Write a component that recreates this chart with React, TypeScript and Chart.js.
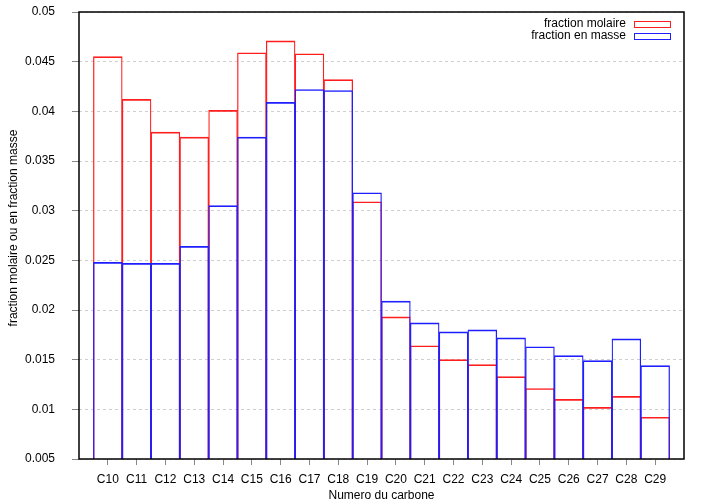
import React, { useEffect, useRef } from "react";
import { Chart, registerables } from "chart.js";

Chart.register(...registerables);

const categories = ["C10","C11","C12","C13","C14","C15","C16","C17","C18","C19","C20","C21","C22","C23","C24","C25","C26","C27","C28","C29"];
const fractionMolaire = [0.0455,0.0412,0.0379,0.0374,0.0401,0.0459,0.0471,0.0458,0.0432,0.0309,0.0193,0.0164,0.0150,0.0145,0.0133,0.0121,0.0110,0.0102,0.0113,0.0092];
const fractionMasse = [0.0248,0.0247,0.0247,0.0264,0.0305,0.0374,0.0409,0.0422,0.0421,0.0318,0.0209,0.0187,0.0178,0.0180,0.0172,0.0163,0.0154,0.0149,0.0171,0.0144];
const legendLabels = ["fraction molaire", "fraction en masse"];
const xTitle = "Numero du carbone";
const yTitle = "fraction molaire ou en fraction masse";

const RED = "rgb(255,30,30)";
const BLUE = "rgb(30,30,255)";
const FONT = "Liberation Sans, Arial, sans-serif";

const overlayPlugin = {
  id: "overlay",
  afterDraw(chart: any) {
    const { ctx, chartArea } = chart;
    const { left, right, top, bottom } = chartArea;
    ctx.save();
    ctx.strokeStyle = "#000";
    ctx.lineWidth = 1.5;
    ctx.strokeRect(left, top, right - left, bottom - top);
    ctx.font = "12px " + FONT;
    ctx.fillStyle = "#000";
    ctx.textAlign = "right";
    ctx.textBaseline = "middle";
    const colors = [RED, BLUE];
    legendLabels.forEach((lab, i) => {
      const y = top + 12 + i * 12;
      ctx.fillText(lab, right - 58, y);
      ctx.strokeStyle = colors[i];
      ctx.lineWidth = 1;
      ctx.strokeRect(right - 49.5, y - 2.5, 36, 6);
    });
    ctx.textAlign = "center";
    ctx.fillText(xTitle, (left + right) / 2, 496);
    ctx.save();
    ctx.translate(14, 228);
    ctx.rotate(-Math.PI / 2);
    ctx.fillText(yTitle, 0, 0);
    ctx.restore();
    ctx.restore();
  },
};

export default function App() {
  const ref = useRef<HTMLCanvasElement>(null);
  useEffect(() => {
    const canvas = ref.current!;
    const mkData = (arr: number[]) => arr.map((v, i) => ({ x: i, y: v }));
    const bw = { left: 0.6, right: 0.6, top: 1, bottom: 0 };
    const chart = new Chart(canvas, {
      type: "bar",
      data: {
        datasets: [
          {
            label: legendLabels[1],
            data: mkData(fractionMasse),
            borderColor: BLUE,
            backgroundColor: "rgba(0,0,0,0)",
            borderWidth: bw,
            borderSkipped: false,
            grouped: false,
            barPercentage: 1,
            categoryPercentage: 1,
          },
          {
            label: legendLabels[0],
            data: mkData(fractionMolaire),
            borderColor: RED,
            backgroundColor: "rgba(0,0,0,0)",
            borderWidth: bw,
            borderSkipped: false,
            grouped: false,
            barPercentage: 1,
            categoryPercentage: 1,
          },
        ],
      } as any,
      options: {
        animation: false,
        responsive: false,
        devicePixelRatio: 1,
        layout: { padding: { top: 12, right: 21, left: 0, bottom: 0 } },
        plugins: { legend: { display: false }, tooltip: { enabled: false } },
        scales: {
          x: {
            type: "linear",
            min: -1,
            max: 20,
            offset: false,
            afterBuildTicks: (scale: any) => {
              scale.ticks = categories.map((_, i) => ({ value: i }));
            },
            afterFit: (scale: any) => {
              scale.height = 45;
              scale.paddingLeft = 0;
              scale.paddingRight = 0;
              scale.paddingTop = 0;
              scale.paddingBottom = 0;
            },
            ticks: {
              autoSkip: false,
              maxRotation: 0,
              padding: 7,
              color: "#000",
              font: { family: FONT, size: 12 },
              callback: (v: any) => categories[v as number] ?? "",
            },
            grid: {
              offset: false,
              drawOnChartArea: false,
              drawTicks: true,
              tickLength: 6,
              tickColor: "#888",
            },
            border: { display: false },
          },
          y: {
            min: 0.005,
            max: 0.05,
            afterFit: (scale: any) => {
              scale.width = 79;
              scale.paddingLeft = 0;
              scale.paddingRight = 0;
              scale.paddingTop = 0;
              scale.paddingBottom = 0;
            },
            ticks: {
              stepSize: 0.005,
              padding: 17,
              color: "#000",
              font: { family: FONT, size: 12 },
              callback: (v: any) => String(Number((v as number).toFixed(3))),
            },
            grid: {
              color: "#d0d0d0",
              drawTicks: true,
              tickLength: 7,
              tickColor: "#888",
              tickBorderDash: [],
            },
            border: { display: false, dash: [3, 3] },
          },
        },
      } as any,
      plugins: [overlayPlugin],
    });
    return () => chart.destroy();
  }, []);
  return (
    <div style={{ position: "fixed", left: 0, top: 0, width: 705, height: 504, background: "#fff" }}>
      <canvas ref={ref} width={705} height={504} style={{ width: 705, height: 504, display: "block" }} />
    </div>
  );
}
